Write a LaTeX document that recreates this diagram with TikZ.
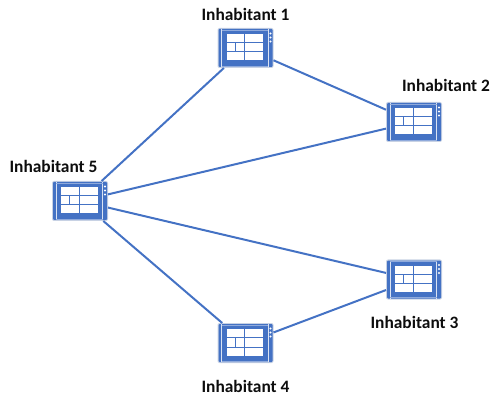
\documentclass[tikz,border=0pt]{standalone}
\usepackage{fontspec}
\setmainfont{Carlito}
\definecolor{tblue}{RGB}{68,114,196}
\definecolor{tedge}{RGB}{200,210,228}
\tikzset{
  x=1pt,y=-1pt,
  link/.style={draw=tblue,line width=2pt},
  tabletbox/.style={minimum width=56pt,minimum height=40pt,inner sep=0pt,outer sep=0pt},
  lbl/.style={font=\bfseries\fontsize{17.4}{20}\selectfont,text=black!95,inner sep=0pt},
}
\newcommand{\tablet}[3]{%
  \node[tabletbox] (#1) at (#2,#3) {};
  \begin{scope}[shift={(#2,#3)}]
    \fill[tedge,rounded corners=2pt] (-28,-20) rectangle (28,20);
    \fill[tblue,rounded corners=1pt] (-27,-19) rectangle (27,19);
    \draw[white!80!tblue,line width=1pt] (-24,-19) -- (-24,19) (22.5,-19) -- (22.5,19);
    \draw[white!40!tblue,line width=.6pt] (-24,-18) -- (22.5,-18) (-24,18) -- (22.5,18);
    \fill[white] (-18.8,-14) rectangle (-1.2,-6);
    \fill[white] (-0.2,-14) rectangle (17.5,-6);
    \fill[white] (-18.8,-5) rectangle (-11,3.5);
    \fill[white] (-10,-5) rectangle (-1.2,3.5);
    \fill[white] (-0.2,-5) rectangle (17.5,3.5);
    \fill[white] (-18.8,4.5) rectangle (-1.2,12.5);
    \fill[white] (-0.2,4.5) rectangle (17.5,12.5);
    \fill[white] (25,-14.5) circle (1.2) (25,-10.5) circle (1.2) (25,-6.5) circle (1.2);
  \end{scope}}
\begin{document}
\begin{tikzpicture}
\useasboundingbox (0,0) rectangle (490,398);
\tablet{i1}{245.5}{48}
\tablet{i2}{414}{122}
\tablet{i3}{414}{279.5}
\tablet{i4}{245.5}{343}
\tablet{i5}{80}{201}
\draw[link] (i5) -- (i1);
\draw[link] (i1) -- (i2);
\draw[link] (i5) -- (i2);
\draw[link] (i5) -- (i3);
\draw[link] (i5) -- (i4);
\draw[link] (i4) -- (i3);
\node[lbl] (t1) at (245.5,14.5) {Inhabitant 1};
\node[lbl] (t2) at (446,85.5) {Inhabitant 2};
\node[lbl] (t3) at (414.5,322.5) {Inhabitant 3};
\node[lbl] (t4) at (245.5,386.5) {Inhabitant 4};
\node[lbl] (t5) at (53.5,166.5) {Inhabitant 5};
\end{tikzpicture}
\end{document}
